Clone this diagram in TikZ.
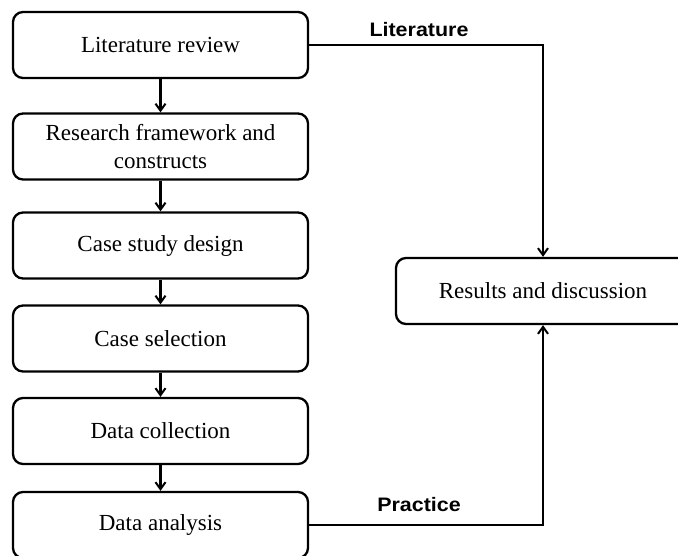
\documentclass[tikz,border=0pt]{standalone}
\usepackage{fontspec}
\setmainfont{Liberation Serif}
\newfontfamily\labelfont{Liberation Sans}
\usetikzlibrary{arrows.meta}
\tikzset{
  stagebox/.style={draw, line width=2.3pt, rounded corners=10pt, minimum width=295pt, minimum height=66pt, inner sep=0pt, align=center, font=\fontsize{23}{28}\selectfont},
  flow/.style={line width=2.2pt, -{Straight Barb[length=7pt,width=10pt,line width=2pt]}},
  flowlabel/.style={font=\labelfont\bfseries\fontsize{19.5}{22}\selectfont, inner sep=0pt}
}
\begin{document}
\begin{tikzpicture}[x=1pt,y=1pt]
\useasboundingbox (0,0) rectangle (678,-555);
\clip (0,0) rectangle (678,-555);
\node[stagebox] (b1) at (160.5,-45) {Literature review};
\node[stagebox] (b2) at (160.5,-146.5) {Research framework and\\constructs};
\node[stagebox] (b3) at (160.5,-245.5) {Case study design};
\node[stagebox] (b4) at (160.5,-338.5) {Case selection};
\node[stagebox] (b5) at (160.5,-431) {Data collection};
\node[stagebox] (b6) at (160.5,-525) {Data analysis};
\node[stagebox, minimum width=294pt] (r) at (543,-291) {Results and discussion};
\draw[flow] (b1) -- (b2);
\draw[flow] (b2) -- (b3);
\draw[flow] (b3) -- (b4);
\draw[flow] (b4) -- (b5);
\draw[flow] (b5) -- (b6);
\draw[flow] (b1.east) -| (r.north);
\draw[flow] (b6.east) -| (r.south);
\node[flowlabel] (lit) at (419,-30) {\scalebox{1.1}[1]{Literature}};
\node[flowlabel] (prac) at (419,-505) {\scalebox{1.1}[1]{Practice}};
\end{tikzpicture}
\end{document}
